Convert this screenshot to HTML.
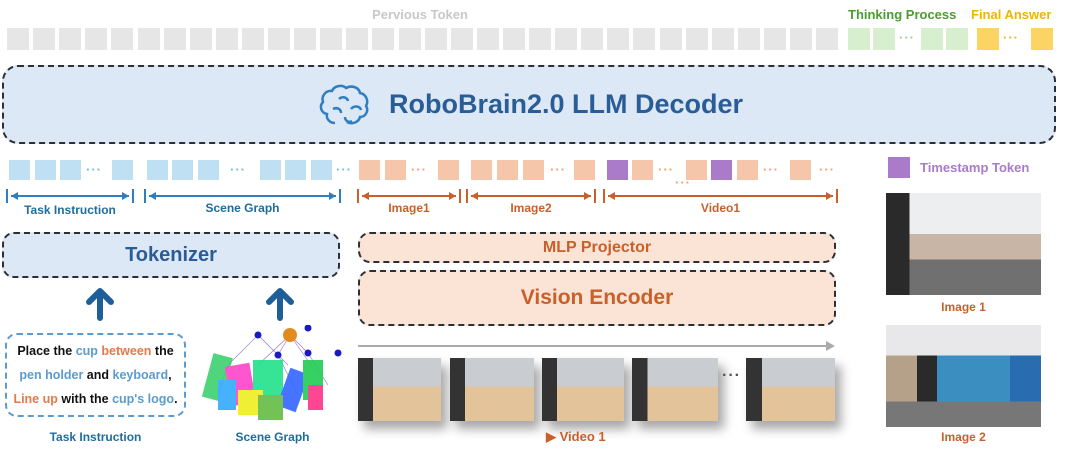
<!DOCTYPE html><html><head><style>
body{margin:0;width:1080px;height:452px;background:#fff;position:relative;overflow:hidden;font-family:"Liberation Sans",Arial,sans-serif;font-weight:bold}
.a{position:absolute}
.t{position:absolute;width:22px;height:22px}
.g{background:#e6e6e6}.b{background:#bfe0f2;width:21px;height:20px}.o{background:#f6c6aa;width:21px;height:20px}.p{background:#a97bc8;width:21px;height:20px}
.dots{position:absolute;font-size:13px;letter-spacing:1px}
.box{position:absolute;border:2px dashed #2b2f36;border-radius:12px;box-sizing:border-box;display:flex;align-items:center;justify-content:center}
.lbl{position:absolute;font-size:12px;text-align:center}
.br{position:absolute;height:14px;box-sizing:border-box;border-left:2px solid;border-right:2px solid}
.br:after{content:"";position:absolute;left:3px;right:3px;top:6px;height:2px;background:currentColor}
.br:before{content:"";position:absolute;left:3px;top:3px;border-right:7px solid currentColor;border-top:4px solid transparent;border-bottom:4px solid transparent;box-shadow:none}
.br i{position:absolute;right:3px;top:3px;border-left:7px solid currentColor;border-top:4px solid transparent;border-bottom:4px solid transparent}
.fr{position:absolute;top:358px;height:63px;background:linear-gradient(90deg,#333 0 18%,transparent 18%),linear-gradient(#c9ccd0 0 45%,#e3c39a 45%);box-shadow:6px 8px 10px rgba(0,0,0,.35)}
</style></head><body>
<div class="lbl" style="left:300px;top:7px;width:240px;color:#c8c8c8;font-size:13px">Pervious Token</div>
<div class="a" style="left:848px;top:7px;color:#4a9d2e;font-size:13px">Thinking Process</div>
<div class="a" style="left:971px;top:7px;color:#f2b400;font-size:13px">Final Answer</div>
<div id="gt"></div>
<script>
var h='';for(var i=0;i<32;i++)h+='<div class="t g" style="left:'+(7+i*26.1)+'px;top:28px"></div>';
document.getElementById('gt').outerHTML=h;
</script>
<div class="t" style="left:848px;top:28px;background:#d7efcf"></div>
<div class="t" style="left:873px;top:28px;background:#d7efcf"></div>
<div class="dots" style="left:899px;top:30px;color:#9bd08c">···</div>
<div class="t" style="left:921px;top:28px;background:#d7efcf"></div>
<div class="t" style="left:946px;top:28px;background:#d7efcf"></div>
<div class="t" style="left:977px;top:28px;background:#fcd463"></div>
<div class="dots" style="left:1003px;top:30px;color:#f2b400">···</div>
<div class="t" style="left:1031px;top:28px;background:#fcd463"></div>

<div class="box" style="left:2px;top:65px;width:1054px;height:79px;background:#dce8f5;border-radius:16px">
<svg width="60" height="48" viewBox="0 0 60 48" style="margin-right:14px"><g fill="none" stroke="#2f7fc0" stroke-width="2.5"><path d="M20 42c-6 0-9-5-8-9-6-1-8-8-4-12-2-6 3-12 9-11 2-5 10-7 14-3 5-3 13-1 14 5 6 1 9 8 6 13 3 4 0 11-6 11-1 5-8 8-13 5"/><path d="M24 18c3-3 8-2 9 2M18 28c4-2 8 0 8 4M36 28c3-4 9-3 10 1M30 36c0 4 4 6 7 4"/></g></svg>
<span style="color:#2a5d96;font-size:27px">RoboBrain2.0 LLM Decoder</span></div>

<div class="t b" style="left:9px;top:160px"></div><div class="t b" style="left:35px;top:160px"></div><div class="t b" style="left:60px;top:160px"></div>
<div class="dots" style="left:86px;top:162px;color:#6fb8e0">···</div><div class="t b" style="left:112px;top:160px"></div>
<div class="t b" style="left:147px;top:160px"></div><div class="t b" style="left:172px;top:160px"></div><div class="t b" style="left:198px;top:160px"></div>
<div class="dots" style="left:230px;top:162px;color:#6fb8e0">···</div>
<div class="t b" style="left:260px;top:160px"></div><div class="t b" style="left:285px;top:160px"></div><div class="t b" style="left:311px;top:160px"></div>
<div class="dots" style="left:336px;top:162px;color:#6fb8e0">···</div>
<div class="t o" style="left:359px;top:160px"></div><div class="t o" style="left:385px;top:160px"></div>
<div class="dots" style="left:411px;top:162px;color:#f0a070">···</div><div class="t o" style="left:438px;top:160px"></div>
<div class="t o" style="left:471px;top:160px"></div><div class="t o" style="left:497px;top:160px"></div><div class="t o" style="left:523px;top:160px"></div>
<div class="dots" style="left:550px;top:162px;color:#f0a070">···</div><div class="t o" style="left:574px;top:160px"></div>
<div class="t p" style="left:607px;top:160px"></div><div class="t o" style="left:632px;top:160px"></div>
<div class="dots" style="left:658px;top:162px;color:#f0a070">···</div>
<div class="dots" style="left:675px;top:175px;color:#f0a070">···</div>
<div class="t o" style="left:686px;top:160px"></div><div class="t p" style="left:711px;top:160px"></div><div class="t o" style="left:737px;top:160px"></div>
<div class="dots" style="left:763px;top:162px;color:#f0a070">···</div><div class="t o" style="left:790px;top:160px"></div>
<div class="dots" style="left:819px;top:162px;color:#f0a070">···</div>
<div class="t p" style="left:888px;top:157px;width:22px;height:21px"></div>
<div class="a" style="left:920px;top:160px;color:#a97bc8;font-size:13px">Timestamp Token</div>

<div class="br" style="left:6px;top:189px;width:128px;color:#2f7fc0"><i></i></div>
<div class="br" style="left:144px;top:189px;width:197px;color:#2f7fc0"><i></i></div>
<div class="br" style="left:357px;top:189px;width:104px;color:#c8602a"><i></i></div>
<div class="br" style="left:466px;top:189px;width:130px;color:#c8602a"><i></i></div>
<div class="br" style="left:603px;top:189px;width:235px;color:#c8602a"><i></i></div>
<div class="lbl" style="left:6px;top:203px;width:128px;color:#1f6d9c">Task Instruction</div>
<div class="lbl" style="left:144px;top:201px;width:197px;color:#1f6d9c">Scene Graph</div>
<div class="lbl" style="left:357px;top:201px;width:104px;color:#c8602a">Image1</div>
<div class="lbl" style="left:466px;top:201px;width:130px;color:#c8602a">Image2</div>
<div class="lbl" style="left:603px;top:201px;width:235px;color:#c8602a">Video1</div>

<div class="box" style="left:2px;top:232px;width:338px;height:46px;background:#dce8f5;color:#2a5d96;font-size:20px">Tokenizer</div>
<div class="box" style="left:358px;top:232px;width:478px;height:31px;background:#fbe3d6;color:#c8602a;font-size:16px">MLP Projector</div>
<div class="box" style="left:358px;top:270px;width:478px;height:56px;background:#fbe3d6;color:#c8602a;font-size:21px">Vision Encoder</div>

<svg class="a" style="left:80px;top:285px" width="240" height="40"><g fill="none" stroke="#1f5f99" stroke-width="6" stroke-linecap="round" stroke-linejoin="round"><path d="M20 33V8M9 17L20 6 31 17"/><path d="M200 33V8M189 17L200 6 211 17"/></g></svg>

<div class="box" style="left:5px;top:333px;width:181px;height:84px;border-color:#5b9bd0;flex-direction:column;font-size:12.5px;line-height:24px;color:#111">
<div>Place the <span style="color:#5b9bd0">cup</span> <span style="color:#e07a4a">between</span> the</div>
<div><span style="color:#5b9bd0">pen holder</span> and <span style="color:#5b9bd0">keyboard</span>,</div>
<div><span style="color:#e07a4a">Line up</span> with the <span style="color:#5b9bd0">cup's logo</span>.</div></div>
<svg class="a" style="left:198px;top:325px" width="145" height="100">
<g stroke="#8a6fc0" stroke-width=".6"><path d="M92 10L60 40M92 10L80 30M92 10L110 28M92 10L120 50M60 10L30 40M60 10L90 40M110 28L130 60M80 30L100 70M30 40L20 70"/></g>
<g opacity=".9"><rect x="10" y="30" width="20" height="45" fill="#3bd16f" transform="rotate(15 20 50)"/><rect x="30" y="40" width="25" height="40" fill="#ff44cc" transform="rotate(-10 40 60)"/><rect x="55" y="35" width="30" height="45" fill="#22e08a"/><rect x="85" y="45" width="20" height="40" fill="#3366ff" transform="rotate(20 95 65)"/><rect x="105" y="35" width="20" height="40" fill="#22cc55"/><rect x="40" y="65" width="25" height="25" fill="#eeee22"/><rect x="60" y="70" width="25" height="25" fill="#66bb44"/><rect x="110" y="60" width="15" height="25" fill="#ff3388"/><rect x="20" y="55" width="18" height="30" fill="#33aaff"/></g>
<circle cx="92" cy="10" r="7" fill="#e38a1e"/><g fill="#1a1ac0"><circle cx="60" cy="10" r="3.5"/><circle cx="110" cy="3" r="3.5"/><circle cx="80" cy="30" r="3.5"/><circle cx="110" cy="28" r="3.5"/><circle cx="140" cy="28" r="3.5"/></g></svg>
<div class="lbl" style="left:5px;top:430px;width:181px;color:#1f6d9c">Task Instruction</div>
<div class="lbl" style="left:200px;top:430px;width:145px;color:#1f6d9c">Scene Graph</div>

<div class="a" style="left:358px;top:345px;width:470px;height:2px;background:#aaa"></div>
<div class="a" style="left:826px;top:341px;border-left:9px solid #aaa;border-top:5px solid transparent;border-bottom:5px solid transparent"></div>
<div class="fr" style="left:358px;width:83px"></div>
<div class="fr" style="left:450px;width:84px"></div>
<div class="fr" style="left:542px;width:82px"></div>
<div class="fr" style="left:632px;width:86px"></div>
<div class="dots" style="left:722px;top:367px;color:#555;font-size:16px">···</div>
<div class="fr" style="left:746px;width:89px"></div>
<div class="a" style="left:546px;top:429px;color:#c8602a;font-size:13px">▶ Video 1</div>

<div class="a" style="left:886px;top:193px;width:155px;height:102px;background:linear-gradient(90deg,#2a2a2a 0 15%,transparent 15%),linear-gradient(#eceef0 0 40%,#c9b5a5 40% 65%,#707070 65%)"></div>
<div class="lbl" style="left:886px;top:300px;width:155px;color:#c8602a">Image 1</div>
<div class="a" style="left:886px;top:325px;width:155px;height:102px;background:linear-gradient(#e8e8ea 0 30%,transparent 30% 75%,#777 75%),linear-gradient(90deg,#b5a08a 0 20%,#2a2a2a 20% 33%,#3a8fc0 33% 80%,#2a6cb0 80%)"></div>
<div class="lbl" style="left:886px;top:430px;width:155px;color:#c8602a">Image 2</div>
</body></html>
